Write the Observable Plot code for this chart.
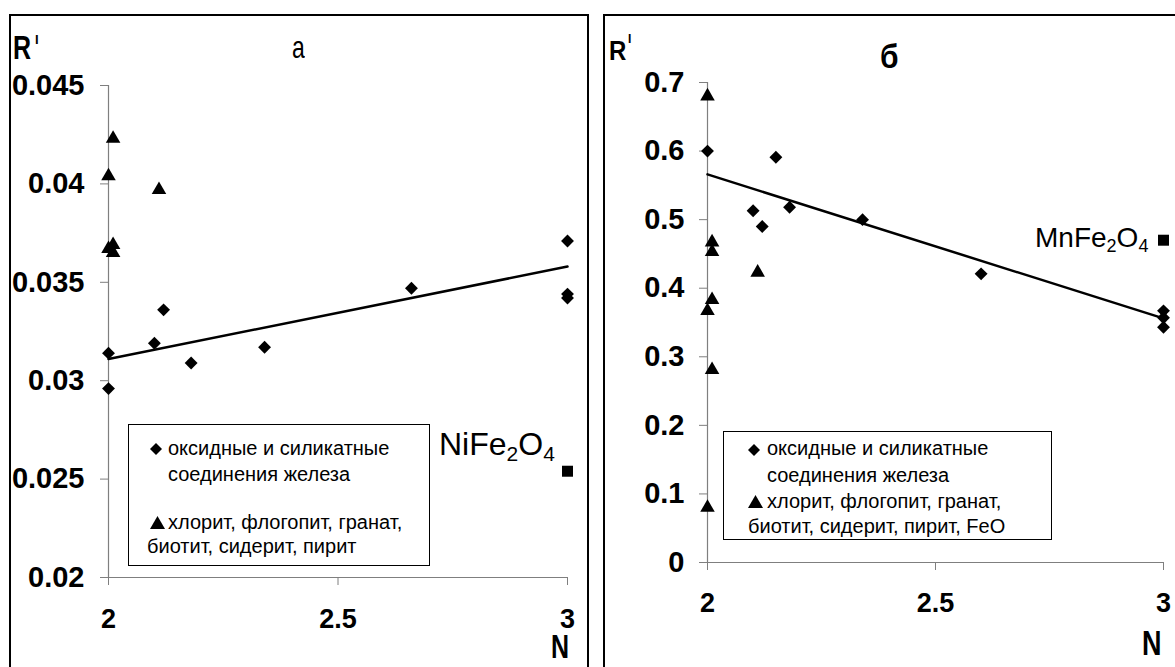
<!DOCTYPE html>
<html><head><meta charset="utf-8">
<script src="https://cdn.jsdelivr.net/npm/d3@7"></script>
<script src="https://cdn.jsdelivr.net/npm/@observablehq/plot@0.6"></script>
<style>
body{margin:0;background:#fff;}
#wrap{position:relative;width:1175px;height:667px;overflow:hidden;font-family:"Liberation Sans",Arial,sans-serif;color:#000;background:#fff;}
.frame{position:absolute;border:2px solid #000;box-sizing:border-box;}
.lbl{position:absolute;line-height:1;white-space:nowrap;}
.legend{position:absolute;border:1px solid #000;box-sizing:border-box;}
.host{position:absolute;top:0;}
</style></head><body><div id="wrap"></div>
<script>
// ---------- data ----------
const xTicks = [2, 2.5, 3];
// panel "а"
const aTicksY = [0.02, 0.025, 0.03, 0.035, 0.04, 0.045];
const aDomainY = [0.02, 0.045];
const aDiamN = [2.00, 2.00, 2.10, 2.12, 2.18, 2.34, 2.66, 3.00, 3.00, 3.00];
const aDiamR = [0.0314, 0.0296, 0.0319, 0.0336, 0.0309, 0.0317, 0.0347, 0.0371, 0.0344, 0.0342];
const aTriN = [2.01, 2.00, 2.11, 2.01, 2.00, 2.01];
const aTriR = [0.0423, 0.0404, 0.0397, 0.0369, 0.0367, 0.0365];
const aSqN = [3.00];
const aSqR = [0.0254];
const aTrendN = [2, 3];
const aTrendR = [0.0311, 0.0358];
// panel "б"
const bTicksY = [0, 0.1, 0.2, 0.3, 0.4, 0.5, 0.6, 0.7];
const bDomainY = [0, 0.7];
const bDiamN = [2.00, 2.15, 2.10, 2.12, 2.18, 2.34, 2.60, 3.00, 3.00, 3.00];
const bDiamR = [0.600, 0.591, 0.513, 0.490, 0.518, 0.500, 0.421, 0.367, 0.357, 0.343];
const bTriN = [2.00, 2.01, 2.01, 2.01, 2.00, 2.01, 2.11, 2.00];
const bTriR = [0.680, 0.467, 0.453, 0.383, 0.367, 0.281, 0.423, 0.080];
const bSqN = [3.00];
const bSqR = [0.470];
const bTrendN = [2, 3];
const bTrendR = [0.566, 0.356];

const legendA = ["оксидные и силикатные", "соединения железа", "хлорит, флогопит, гранат,", "биотит, сидерит, пирит"];
const legendB = ["оксидные и силикатные", "соединения железа", "хлорит, флогопит, гранат,", "биотит, сидерит, пирит, FeO"];

// ---------- helpers ----------
const FONT = '"Liberation Sans", Arial, sans-serif';
const zip = (xs, ys) => xs.map((n, i) => ({N: n, R: ys[i]}));

function panel(p) {
  return Plot.plot({
    width: p.width, height: 667,
    marginLeft: p.ml, marginRight: p.mr, marginTop: p.mt, marginBottom: p.mb,
    style: {fontFamily: FONT, background: "transparent", overflow: "visible", color: "#000"},
    x: {domain: [2, 3]},
    y: {domain: p.domainY},
    marks: [
      Plot.ruleX([2], {y1: p.domainY[0], y2: p.domainY[1], stroke: "#7f7f7f", strokeWidth: 1.2}),
      Plot.ruleY([p.domainY[0]], {x1: 2, x2: 3, stroke: "#7f7f7f", strokeWidth: 1.2}),
      Plot.axisY({ticks: p.ticksY, tickSize: 8, tickPadding: p.padY, tickFormat: d => String(d),
        stroke: "#7f7f7f", fill: "#000", fontSize: 29, fontWeight: "bold", label: null}),
      Plot.axisX({ticks: xTicks, tickSize: 8, tickPadding: p.padX, tickFormat: d => String(d),
        stroke: "#7f7f7f", fill: "#000", fontSize: 27, fontWeight: "bold", label: null}),
      Plot.line(zip(p.trendN, p.trendR), {x: "N", y: "R", stroke: "#000", strokeWidth: 2.5}),
      Plot.dot(zip(p.diamN, p.diamR), {x: "N", y: "R", symbol: "diamond2", fill: "#000", r: 5.8}),
      Plot.dot(zip(p.triN, p.triR), {x: "N", y: "R", symbol: "triangle", fill: "#000", r: 5.4}),
      Plot.dot(zip(p.sqN, p.sqR), {x: "N", y: "R", symbol: "square", fill: "#000", r: 6.2})
    ]
  });
}

const wrap = document.getElementById("wrap");
function host(left, width, svg) {
  const d = document.createElement("div");
  d.className = "host"; d.style.left = left + "px"; d.style.width = width + "px";
  d.appendChild(svg); wrap.appendChild(d);
}
function label(html, x, base, size, weight = "normal", sy = 1) {
  const el = document.createElement("div");
  el.className = "lbl";
  el.style.left = x + "px";
  el.style.top = (base - 0.8465 * size) + "px";
  el.style.fontSize = size + "px";
  el.style.fontWeight = weight;
  if (sy !== 1) {
    el.style.transformOrigin = `0 ${0.8465 * size}px`;
    el.style.transform = `scaleY(${sy})`;
  }
  el.innerHTML = html;
  wrap.appendChild(el);
}
function box(x, y, w, h, cls) {
  const d = document.createElement("div");
  d.className = cls;
  d.style.left = x + "px"; d.style.top = y + "px"; d.style.width = w + "px"; d.style.height = h + "px";
  wrap.appendChild(d);
}
function marker(kind, x, y) {
  const ns = "http://www.w3.org/2000/svg";
  const s = document.createElementNS(ns, "svg");
  const w = kind === "d" ? 12 : 15, h = kind === "d" ? 12 : 13;
  s.setAttribute("width", w); s.setAttribute("height", h);
  s.style.position = "absolute"; s.style.left = x + "px"; s.style.top = y + "px";
  const path = document.createElementNS(ns, "path");
  path.setAttribute("d", kind === "d" ? "M6 0L12 6L6 12L0 6Z" : "M7.5 0L15 13H0Z");
  path.setAttribute("fill", "#000");
  s.appendChild(path); wrap.appendChild(s);
}

// ---------- panels ----------
host(0, 590, panel({width: 590, ml: 108, mr: 23, mt: 85, mb: 90, padY: 16, padX: 23,
  domainY: aDomainY, ticksY: aTicksY, diamN: aDiamN, diamR: aDiamR, triN: aTriN, triR: aTriR,
  sqN: aSqN, sqR: aSqR, trendN: aTrendN, trendR: aTrendR}));
host(595, 580, panel({width: 580, ml: 112, mr: 12, mt: 82, mb: 105, padY: 15, padX: 22,
  domainY: bDomainY, ticksY: bTicksY, diamN: bDiamN, diamR: bDiamR, triN: bTriN, triR: bTriR,
  sqN: bSqN, sqR: bSqR, trendN: bTrendN, trendR: bTrendR}));

// frames
box(9, 14, 580, 700, "frame");
box(603, 14, 620, 700, "frame");

// ---------- texts, panel а ----------
label("R", 13, 59, 25, "bold", 1.34);
label("I", 35, 44, 13, "bold");
label("а", 292, 58, 23, "normal", 1.34);
label('NiFe<span style="font-size:21px;position:relative;top:6px">2</span>O<span style="font-size:21px;position:relative;top:6px">4</span>', 439, 455, 32);
label("N", 551, 658, 25, "bold", 1.3);

// legend а
box(128, 424, 302, 142, "legend");
marker("d", 150, 443);
marker("t", 150, 516);
label(legendA[0], 168, 455, 20);
label(legendA[1], 168, 481, 20);
label(legendA[2], 168, 529, 20);
label(legendA[3], 147, 553, 20);

// ---------- texts, panel б ----------
label("R", 609, 60, 24, "bold", 1.17);
label("I", 628, 43, 12, "bold");
label("б", 880, 68, 30, "bold", 1.12);
label('MnFe<span style="font-size:18px;position:relative;top:5px">2</span>O<span style="font-size:18px;position:relative;top:5px">4</span>', 1035, 248, 28);
label("N", 1142, 656, 27, "bold", 1.3);

// legend б
box(723, 431, 329, 109, "legend");
marker("d", 748, 444);
marker("t", 748, 495);
label(legendB[0], 767, 455, 20);
label(legendB[1], 767, 482, 20);
label(legendB[2], 767, 508, 20);
label(legendB[3], 748, 533, 20);
</script>
</body></html>
